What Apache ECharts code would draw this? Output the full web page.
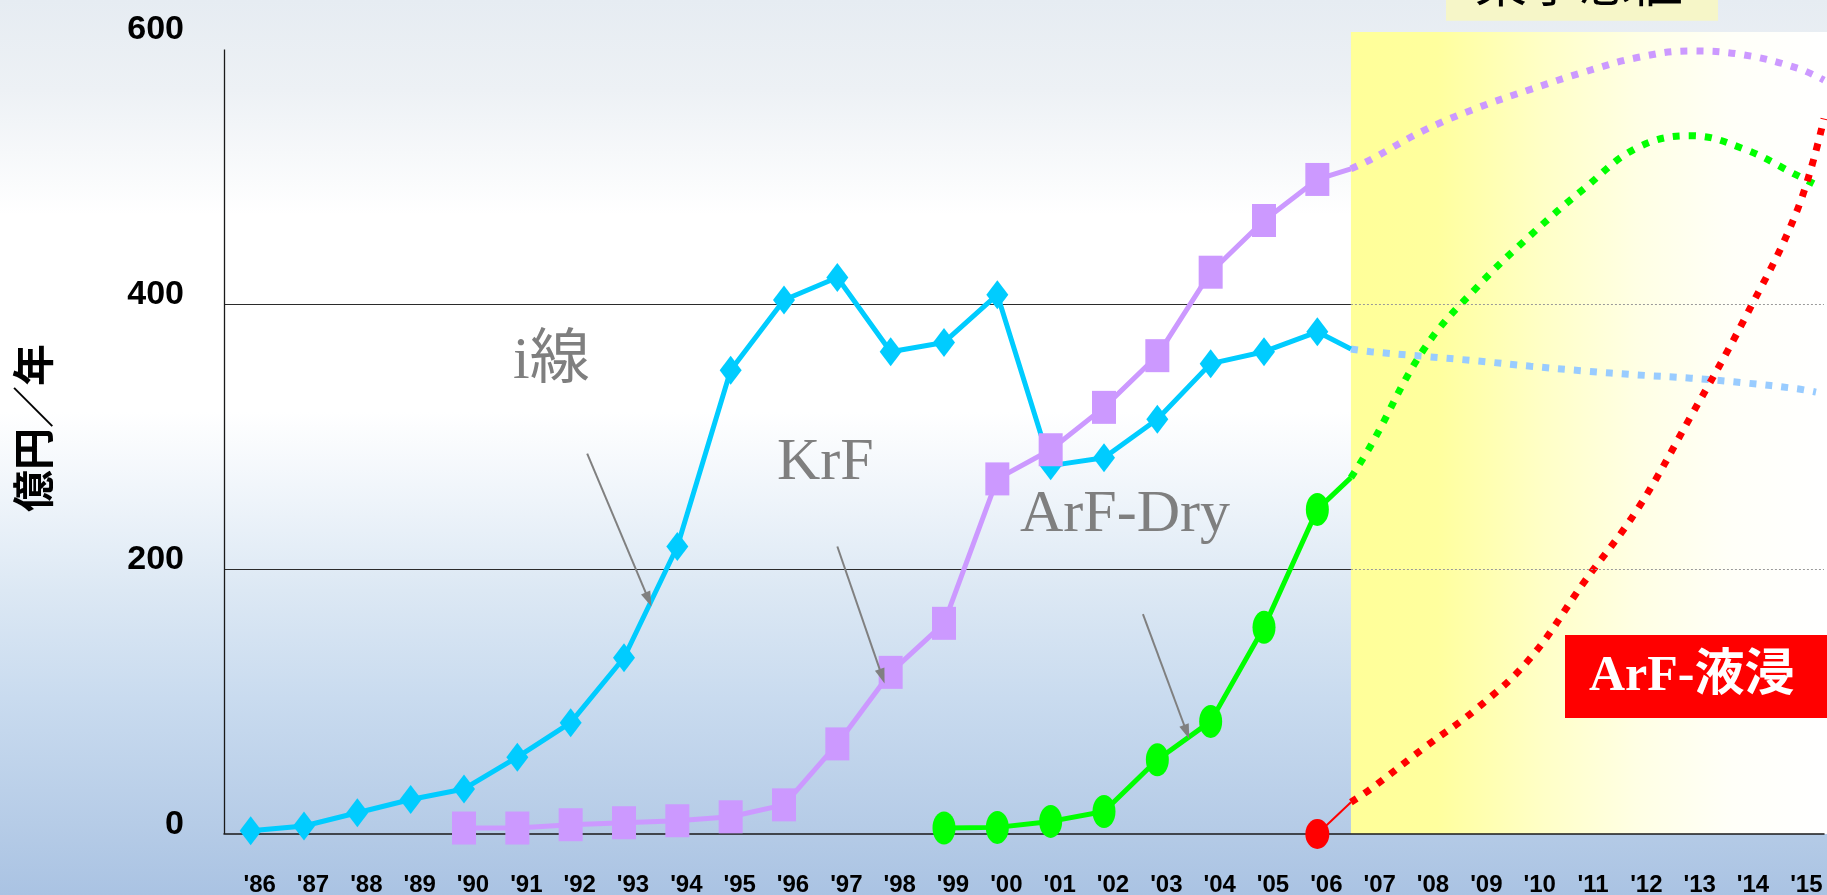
<!DOCTYPE html>
<html>
<head>
<meta charset="utf-8">
<script src="https://cdn.jsdelivr.net/npm/echarts@6/dist/echarts.min.js"></script>
<style>
  html, body { margin: 0; padding: 0; width: 1827px; height: 895px; overflow: hidden; }
  body {
    background: linear-gradient(to bottom,
      #e6ecf2 0%, #edf1f5 10%, #f6f8fa 17%, #ffffff 24%, #ffffff 46%,
      #eef4fa 56%, #dce8f4 66%, #c9dbef 78%, #b6cce7 92%, #aac3e3 100%);
  }
  #chart { width: 1827px; height: 895px; }
</style>
</head>
<body>
<div id="chart"></div>
<script>
// Year labels on the category axis
const yearLabels = ["'86","'87","'88","'89","'90","'91","'92","'93","'94","'95",
                    "'96","'97","'98","'99","'00","'01","'02","'03","'04","'05",
                    "'06","'07","'08","'09","'10","'11","'12","'13","'14","'15"];
const yTicks = { min: 0, max: 600, step: 200 };
const yTitle = '億円／年';

// Actual results (億円/年)
const iLineYears  = [1986,1987,1988,1989,1990,1991,1992,1993,1994,1995,1996,1997,1998,1999,2000,2001,2002,2003,2004,2005,2006];
const iLineActual = [2.5, 6, 16, 26, 34, 58, 84, 133, 217, 350, 403, 420, 364, 371, 407, 278, 284, 313, 355, 364, 379];

const krfYears  = [1990,1991,1992,1993,1994,1995,1996,1997,1998,1999,2000,2001,2002,2003,2004,2005,2006];
const krfActual = [4.5, 4.5, 7, 8.5, 10, 13, 22, 68, 122, 159, 268, 290, 322, 361, 424, 463, 494];

const arfDryYears  = [1999,2000,2001,2002,2003,2004,2005,2006];
const arfDryActual = [4.5, 5, 9.5, 17, 56, 85, 156, 245];

const arfImmYears  = [2006];
const arfImmActual = [0];

// Forecast curves (start at the forecast boundary)
const forecastStart = 2006.63;
const fcYears = [forecastStart, 2007, 2008, 2009, 2010, 2011, 2012, 2013, 2014, 2015];
const iLineForecast  = [366, 364, 360.5, 357, 353, 349.5, 346.5, 344, 340.5, 336];
const iLineFcEnd     = [2015.35, 333.5];
const krfForecast    = [502, 509, 531, 548, 562, 575, 586, 591, 588, 578];
const krfFcEnd       = [2015.5, 569];
const arfDryForecast = [269, 293, 366, 413, 452, 487, 518, 527, 517, 497];
const arfDryFcEnd    = [2015.35, 490];
const arfImmForecast = [24, 34, 65, 95, 133, 190, 245, 315, 388, 471];
const arfImmFcEnd    = [2015.5, 540];

// Callout arrows [from, to] in [year, value]
const arrowLines = [
  [[1992.31, 287], [1993.46, 177]],
  [[1997.0, 217], [1997.84, 119]],
  [[2002.73, 166], [2003.55, 77]]
];

const xMin = 1985.5, xMax = 2015.5;
const yAxisTop = 592;

function pts(years, vals) { return years.map((y, i) => [y, vals[i]]); }

const ellipse = 'path://M0,1A1,1 0 1,1 2,1A1,1 0 1,1 0,1Z';

function actualSeries(name, years, vals, fcFirst, color, symbol, size, width) {
  return {
    name, type: 'line', xAxisIndex: 1, yAxisIndex: 0,
    data: pts(years, vals).concat([{ value: [forecastStart, fcFirst], symbol: 'none' }]),
    symbol, symbolSize: size, symbolKeepAspect: false,
    itemStyle: { color, opacity: 1 },
    lineStyle: { color, width },
    silent: true, z: 3
  };
}

function forecastSeries(name, vals, end, color) {
  return {
    name, type: 'line', xAxisIndex: 1, yAxisIndex: 0,
    data: pts(fcYears, vals).concat([end]),
    smooth: 0.4, showSymbol: false, symbol: 'none',
    lineStyle: { color, width: 7, type: [7, 9], cap: 'butt' },
    silent: true, z: 2
  };
}

const chart = echarts.init(document.getElementById('chart'), null, { renderer: 'canvas' });

const option = {
  backgroundColor: 'transparent',
  animation: false,
  grid: { left: 224, right: 3, top: 39, bottom: 61, containLabel: false, outerBoundsMode: 'none' },
  xAxis: [
    {
      type: 'category', data: yearLabels, boundaryGap: true, z: 1.5,
      axisLine: { lineStyle: { color: '#1a1a1a', width: 1.5 } },
      axisTick: { inside: true, length: 14, interval: 0, lineStyle: { color: '#1a1a1a', width: 1.2 } },
      axisLabel: {
        interval: 0, margin: 39, color: '#000', fontFamily: 'Liberation Sans',
        fontWeight: 'bold', fontSize: 24, padding: [0, 0, 0, 18]
      },
      splitLine: { show: false }
    },
    { type: 'value', min: xMin, max: xMax, show: false }
  ],
  yAxis: {
    type: 'value', min: yTicks.min, max: yTicks.max, interval: yTicks.step,
    axisLine: { show: false },
    axisTick: { show: false },
    axisLabel: {
      margin: 40, color: '#000', fontFamily: 'Liberation Sans', fontWeight: 'bold',
      fontSize: 34, verticalAlign: 'bottom', lineHeight: 19
    },
    splitLine: { show: true, lineStyle: { color: ['rgba(0,0,0,0)', '#2b2b2b', '#2b2b2b', 'rgba(0,0,0,0)'], width: 1.2 } }
  },
  series: [
    Object.assign(forecastSeries('i線 予測', iLineForecast, iLineFcEnd, '#99CCFF'), {
      markLine: {
        silent: true, symbol: ['none', 'none'], label: { show: false },
        lineStyle: { color: '#9a9a9a', width: 1, type: [2, 2] },
        data: [200, 400].map(v => [{ coord: [forecastStart, v] }, { coord: [xMax, v] }])
      }
    }),
    forecastSeries('KrF 予測', krfForecast, krfFcEnd, '#CC99FF'),
    forecastSeries('ArF-Dry 予測', arfDryForecast, arfDryFcEnd, '#00FF00'),
    forecastSeries('ArF-液浸 予測', arfImmForecast, arfImmFcEnd, '#FF0000'),
    Object.assign(actualSeries('i線', iLineYears, iLineActual, iLineForecast[0], '#00CCFF', 'diamond', [22, 29], 5), {
      markLine: {
        silent: true, symbol: ['none', 'triangle'], symbolSize: [10, 15], label: { show: false },
        lineStyle: { color: '#808080', width: 2, type: 'solid' },
        data: arrowLines.map(([a, b]) => [{ coord: a }, { coord: b }])
      }
    }),
    actualSeries('KrF', krfYears, krfActual, krfForecast[0], '#CC99FF', 'rect', [24, 33], 5),
    actualSeries('ArF-Dry', arfDryYears, arfDryActual, arfDryForecast[0], '#00FF00', ellipse, [23, 33], 5),
    Object.assign(actualSeries('ArF-液浸', arfImmYears, arfImmActual, arfImmForecast[0], '#FF0000', ellipse, [24, 30], 2), {
      // vertical value axis line, ending a little below the top tick
      markLine: {
        silent: true, symbol: ['none', 'none'], label: { show: false },
        lineStyle: { color: '#1a1a1a', width: 1.3, type: 'solid' },
        data: [[{ coord: [xMin, 0] }, { coord: [xMin, yAxisTop] }]]
      }
    })
  ]
};

chart.setOption(option);

// Forecast band and text annotations
const bandLeft = chart.convertToPixel({ xAxisIndex: 1 }, forecastStart);
const bandBottom = chart.convertToPixel({ yAxisIndex: 0 }, 0);
const W = chart.getWidth();
const serif = "'Liberation Serif', 'Noto Sans CJK JP'";

chart.setOption({
  graphic: [
    {
      type: 'rect', z: 1, silent: true,
      shape: { x: bandLeft, y: 32, width: W - bandLeft, height: bandBottom - 32 },
      style: {
        fill: new echarts.graphic.LinearGradient(0, 0, 1, 0, [
          { offset: 0, color: '#FFFF99' }, { offset: 0.18, color: '#FFFF9E' },
          { offset: 0.4, color: '#FFFFC6' }, { offset: 0.6, color: '#FFFFE4' },
          { offset: 0.8, color: '#FFFFF8' }, { offset: 1, color: '#FFFFFF' }
        ])
      }
    },
    { type: 'text', z: 10, silent: true, x: 33, y: 428, rotation: Math.PI / 2,
      style: { text: yTitle, fill: '#000', fontSize: 42, fontWeight: 'bold', fontFamily: "'Noto Sans CJK JP'", align: 'center', verticalAlign: 'middle' } },
    { type: 'text', z: 10, silent: true, x: 513, y: 362,
      style: { text: 'i線', fill: '#7f7f7f', fontSize: 60, fontFamily: serif, align: 'left', verticalAlign: 'middle' } },
    { type: 'text', z: 10, silent: true, x: 777, y: 463,
      style: { text: 'KrF', fill: '#7f7f7f', fontSize: 60, fontFamily: serif, align: 'left', verticalAlign: 'middle' } },
    { type: 'text', z: 10, silent: true, x: 1020, y: 515,
      style: { text: 'ArF-Dry', fill: '#7f7f7f', fontSize: 60, fontFamily: serif, align: 'left', verticalAlign: 'middle' } },
    { type: 'rect', z: 10, silent: true, shape: { x: 1565, y: 635, width: W - 1565, height: 83 }, style: { fill: '#FF0000' } },
    { type: 'text', z: 11, silent: true, x: 1589, y: 677,
      style: { text: 'ArF-液浸', fill: '#ffffff', fontSize: 50, fontWeight: 'bold', fontFamily: serif, align: 'left', verticalAlign: 'middle' } },
    { type: 'rect', z: 10, silent: true, shape: { x: 1446, y: -40, width: 272, height: 60.7 }, style: { fill: '#F6F6C8' } },
    { type: 'text', z: 11, silent: true, x: 1579, y: -18,
      style: { text: '某予想値', fill: '#000000', fontSize: 52, fontFamily: "'Noto Sans CJK JP'", align: 'center', verticalAlign: 'middle' } }
  ]
});
</script>
</body>
</html>
